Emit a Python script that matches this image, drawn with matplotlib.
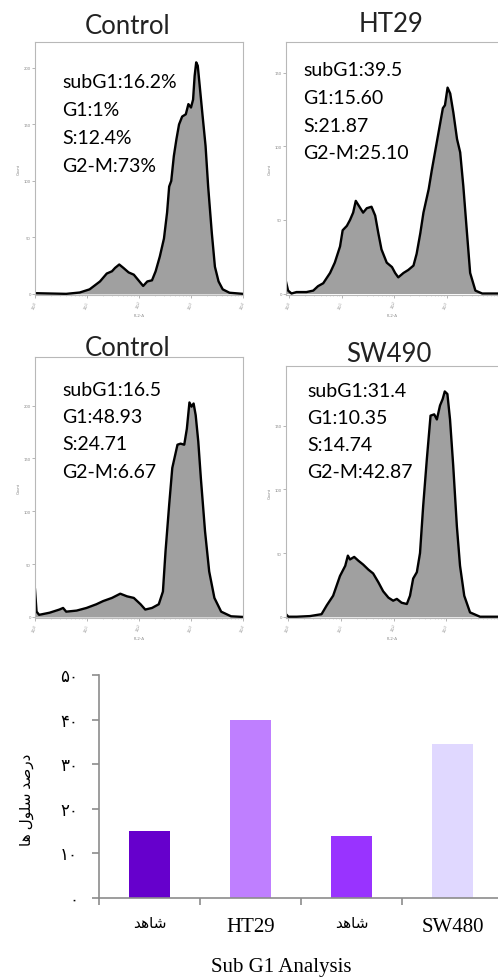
import numpy as np
import matplotlib
matplotlib.use("Agg")
import matplotlib.pyplot as plt

plt.rcParams['font.family'] = ['Lato', 'DejaVu Sans']

# flow cytometry histograms: x = log10(FL2-A), y = count
ctrl1_x = [0.00, 0.60, 0.86, 1.05, 1.25, 1.38, 1.48, 1.54, 1.62, 1.70, 1.80, 1.90, 1.99, 2.08,
           2.16, 2.25, 2.32, 2.40, 2.48, 2.54, 2.58, 2.62, 2.67, 2.72, 2.77, 2.83, 2.90, 2.95,
           3.00, 3.04, 3.07, 3.10, 3.13, 3.17, 3.22, 3.28, 3.33, 3.40, 3.46, 3.53, 3.61, 3.74, 4.00]
ctrl1_y = [0.6, 0, 1.2, 4, 11, 18, 20, 23, 26, 23, 19, 17, 12, 7,
           11, 12, 20, 33, 49, 72, 95, 100, 122, 137, 150, 157, 159, 168,
           165, 172, 193, 205, 202, 183, 159, 131, 95, 54, 24, 11, 4, 1, 0]

ht29_x = [-0.06, -0.02, 0.045, 0.14, 0.33, 0.46, 0.55, 0.65, 0.78, 0.87, 0.97, 1.02, 1.10, 1.16,
          1.22, 1.27, 1.34, 1.41, 1.48, 1.57, 1.64, 1.70, 1.76, 1.86, 1.96, 2.02, 2.08, 2.18,
          2.27, 2.37, 2.43, 2.50, 2.56, 2.66, 2.72, 2.78, 2.88, 2.93, 2.97, 3.02, 3.07, 3.13,
          3.20, 3.26, 3.32, 3.39, 3.45, 3.55, 3.68, 4.00]
ht29_y = [8, 2, 0, 1, 1, 2, 5, 7, 14, 21, 32, 43, 46, 50,
          55, 63, 59, 55, 58, 59, 53, 41, 30, 21, 18, 14, 11, 14,
          16, 19, 27, 41, 55, 71, 84, 96, 116, 126, 128, 140, 136, 123,
          105, 96, 73, 41, 14, 2, 0, 0]

ctrl2_x = [0.00, 0.03, 0.08, 0.28, 0.47, 0.54, 0.60, 0.80, 0.99, 1.18, 1.31, 1.48, 1.64, 1.77,
           1.90, 2.03, 2.12, 2.25, 2.38, 2.46, 2.51, 2.58, 2.64, 2.74, 2.80, 2.87, 2.92, 2.97,
           3.01, 3.05, 3.09, 3.14, 3.19, 3.27, 3.35, 3.45, 3.58, 3.77, 4.00]
ctrl2_y = [26, 5, 2, 4, 7, 8.5, 5, 6, 8.5, 12, 15, 18, 22, 19.5,
           18, 12, 7, 8.5, 12, 24, 62, 106, 141, 163, 164, 163, 178, 203,
           199, 202, 191, 166, 131, 81, 43, 18, 5, 0.6, 0]

sw490_x = [-0.045, 0.00, 0.16, 0.41, 0.63, 0.73, 0.85, 0.98, 1.08, 1.13, 1.17, 1.25, 1.33, 1.42,
           1.52, 1.61, 1.71, 1.80, 1.90, 1.99, 2.06, 2.15, 2.25, 2.31, 2.37, 2.44, 2.50, 2.56,
           2.63, 2.70, 2.77, 2.82, 2.88, 2.93, 2.97, 3.02, 3.07, 3.13, 3.20, 3.26, 3.34, 3.45,
           3.64, 3.99]
sw490_y = [2, 0, 0, 0.5, 2, 9, 16.5, 32, 40, 48, 45, 47, 44, 41,
           37, 34, 27, 20, 15, 12.6, 14, 11, 10, 16.5, 30, 35, 50, 87,
           124, 158, 159, 155, 166, 171, 177, 175, 155, 119, 71, 40, 16.5, 3.4,
           0, 0]

panel_titles = ["Control", "HT29", "Control", "SW490"]
ctrl1_text = ["subG1:16.2%", "G1:1%", "S:12.4%", "G2-M:73%"]
ht29_text = ["subG1:39.5", "G1:15.60", "S:21.87", "G2-M:25.10"]
ctrl2_text = ["subG1:16.5", "G1:48.93", "S:24.71", "G2-M:6.67"]
sw490_text = ["subG1:31.4", "G1:10.35", "S:14.74", "G2-M:42.87"]

# Sub G1 bar chart
bar_labels = ["شاهد", "HT29", "شاهد", "SW480"]
bar_values = [15, 40, 14, 34.5]
bar_colors = ["#6600cc", "#bf7fff", "#9933ff", "#e0d8ff"]
bar_yticks = [0, 10, 20, 30, 40, 50]
bar_ylabel = "درصد سلول ها"
bar_title = "Sub G1 Analysis"

W, H = 498, 979


def rect(left, top, right, bottom):
    return [left / W, 1 - bottom / H, (right - left) / W, (bottom - top) / H]


# tiny shaper for the few Persian letters used (no arabic reshaper available)
FORMS = {
    'ا': ('\ufe8d', '\ufe8e', None, None),
    'د': ('\ufea9', '\ufeaa', None, None),
    'ر': ('\ufead', '\ufeae', None, None),
    'و': ('\ufeed', '\ufeee', None, None),
    'ش': ('\ufeb5', '\ufeb6', '\ufeb7', '\ufeb8'),
    'س': ('\ufeb1', '\ufeb2', '\ufeb3', '\ufeb4'),
    'ص': ('\ufeb9', '\ufeba', '\ufebb', '\ufebc'),
    'ل': ('\ufedd', '\ufede', '\ufedf', '\ufee0'),
    'ه': ('\ufee9', '\ufeea', '\ufeeb', '\ufeec'),
}


def shape(s):
    if not any(c in FORMS for c in s):
        return s
    out = []
    for i, c in enumerate(s):
        if c not in FORMS:
            out.append(c)
            continue
        prev = s[i - 1] if i > 0 else ''
        nxt = s[i + 1] if i + 1 < len(s) else ''
        jp = prev in FORMS and FORMS[prev][2] is not None
        jn = FORMS[c][2] is not None and nxt in FORMS
        f = FORMS[c]
        if jp and jn:
            out.append(f[3])
        elif jp:
            out.append(f[1])
        elif jn:
            out.append(f[2])
        else:
            out.append(f[0])
    return ''.join(reversed(out))


def fa_digits(v):
    return str(v).translate(str.maketrans('0123456789', '۰۱۲۳۴۵۶۷۸۹'))


fig = plt.figure(figsize=(W / 100, H / 100), dpi=100)

panels = [
    (ctrl1_x, ctrl1_y, ctrl1_text, rect(35, 43, 243, 296), (0, 4), 223, 200, (127.5, 27), (62, 82, 28)),
    (ht29_x, ht29_y, ht29_text, rect(286, 43, 499, 296), (-0.06, 4), 171, 150, (391, 25), (303, 70, 28)),
    (ctrl2_x, ctrl2_y, ctrl2_text, rect(35, 358, 243, 619), (0, 4), 246, 200, (127.5, 348), (62, 390, 27.5)),
    (sw490_x, sw490_y, sw490_text, rect(286, 367, 499, 619), (-0.045, 4), 197, 150, (389, 354), (307, 392, 27)),
]

for k, (x, y, txt, r, xl, ytop, ymaxtick, tpos, tx) in enumerate(panels):
    ax = fig.add_axes(r)
    ax.fill_between(x, y, 0, color='#a0a0a0', lw=0)
    ax.plot(x, y, color='black', lw=1.7)
    ax.set_xlim(*xl)
    ax.set_ylim(-1, ytop)
    for s in ax.spines.values():
        s.set_color('#b8b8b8')
        s.set_linewidth(0.8)
    # right-hand panels run off the edge: their last decade label is not shown
    n_dec = 5 if k % 2 == 0 else 4
    ax.set_xticks(range(n_dec))
    ax.set_xticklabels([f'$10^{i}$' for i in range(n_dec)], rotation=60)
    ax.set_xticks([d + np.log10(m) for d in range(4) for m in range(2, 10)], minor=True)
    ax.set_yticks(range(0, ymaxtick + 1, 50))
    ax.tick_params(length=2, width=0.5, color='#999999', labelsize=3, labelcolor='#888888', pad=1)
    ax.tick_params(which='minor', length=1, width=0.4, color='#bbbbbb')
    ax.set_ylabel('Count', fontsize=3, color='#888888', labelpad=2)
    ax.set_xlabel('FL2-A', fontsize=3, color='#888888', labelpad=1)
    fig.text(tpos[0] / W, 1 - tpos[1] / H, panel_titles[k], fontsize=18.5,
             color='#222222', ha='center', va='center')
    for j, line in enumerate(txt):
        fig.text(tx[0] / W, 1 - (tx[1] + j * tx[2]) / H, line, fontsize=14,
                 color='black', ha='left', va='center')

# bar chart
serif = ['Liberation Serif', 'DejaVu Sans']
ax = fig.add_axes(rect(99, 676, 503, 899))
pos = np.arange(len(bar_values)) + 0.5
ax.bar(pos, bar_values, width=0.405, color=bar_colors)
ax.set_xlim(0, 4)
ax.set_ylim(0, 50)
for side in ['top', 'right']:
    ax.spines[side].set_visible(False)
for side in ['left', 'bottom']:
    ax.spines[side].set_color('#8c8c8c')
    ax.spines[side].set_linewidth(1.2)
ax.set_xticks(range(4))
ax.set_xticklabels([])
ax.tick_params(axis='x', length=5, width=1.2, color='#8c8c8c')
ax.set_xticks(pos, minor=True)
ax.set_xticklabels([shape(l) for l in bar_labels], minor=True, family=serif)
ax.tick_params(axis='x', which='minor', length=0, pad=14)
for lbl, raw in zip(ax.get_xticklabels(minor=True), bar_labels):
    lbl.set_fontsize(11 if shape(raw) != raw else 15)
ax.set_yticks(bar_yticks)
ax.set_yticklabels([fa_digits(v) for v in bar_yticks], family=serif, fontsize=12)
ax.tick_params(axis='y', length=5, width=1.2, color='#8c8c8c', pad=10)
fig.text(27 / W, 1 - 800 / H, shape(bar_ylabel), rotation=90, fontsize=11,
         family=serif, ha='center', va='center')
fig.text(281 / W, 1 - 968 / H, bar_title, fontsize=15, family=serif,
         ha='center', va='center')

fig.savefig('out.png', dpi=100)
